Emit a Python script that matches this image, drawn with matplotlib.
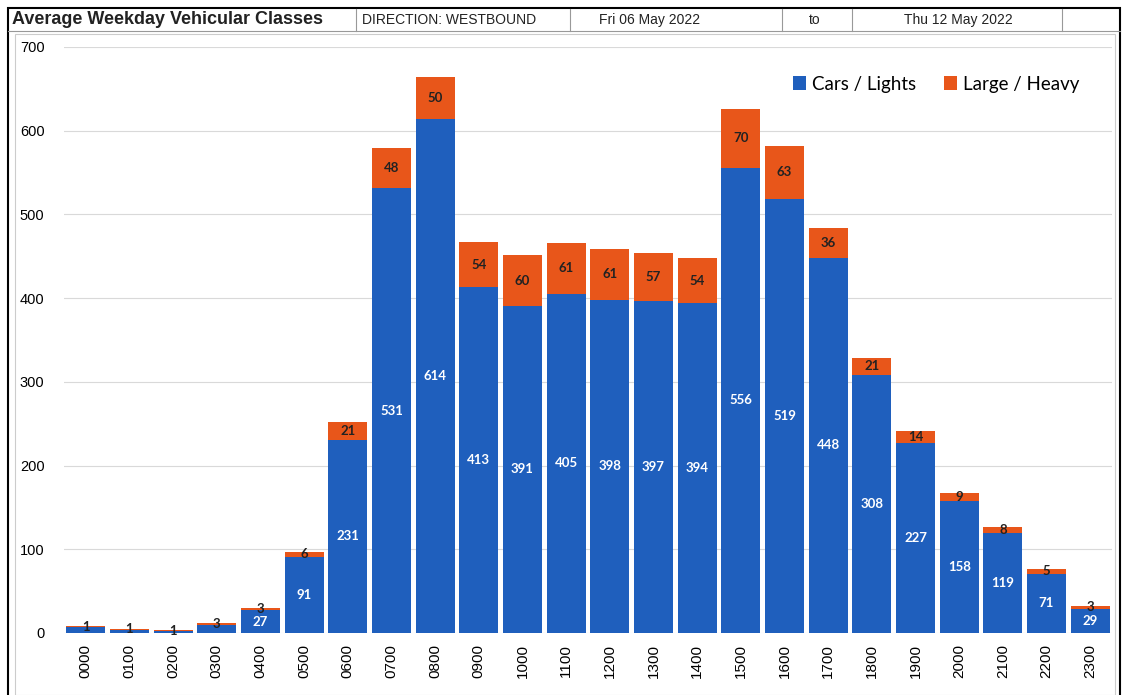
import numpy as np
import matplotlib.pyplot as plt
from matplotlib.patches import Rectangle
from matplotlib.lines import Line2D

hours = ["0000", "0100", "0200", "0300", "0400", "0500", "0600", "0700",
         "0800", "0900", "1000", "1100", "1200", "1300", "1400", "1500",
         "1600", "1700", "1800", "1900", "2000", "2100", "2200", "2300"]
cars = [7, 4, 2, 9, 27, 91, 231, 531, 614, 413, 391, 405, 398, 397, 394,
        556, 519, 448, 308, 227, 158, 119, 71, 29]
heavy = [1, 1, 1, 3, 3, 6, 21, 48, 50, 54, 60, 61, 61, 57, 54, 70, 63, 36,
         21, 14, 9, 8, 5, 3]

blue = "#1f5fbd"
orange = "#e8561a"

plt.rcParams['font.family'] = ['Liberation Sans', 'DejaVu Sans']

fig = plt.figure(figsize=(11.25, 6.95), dpi=100)
W, H = 1125, 695

def fx(px):
    return px / W

def fy(py):
    return 1 - py / H

# outer frame and header cells
fig.add_artist(Rectangle((fx(8), fy(700)), fx(1112), fy(8) - fy(700),
                         transform=fig.transFigure, fill=False,
                         edgecolor="black", lw=1.5))
fig.add_artist(Line2D([fx(8), fx(1120)], [fy(31), fy(31)],
                      transform=fig.transFigure, color="#999999", lw=0.8))
for sx in [356, 570, 782, 852, 1062]:
    fig.add_artist(Line2D([fx(sx), fx(sx)], [fy(9), fy(31)],
                          transform=fig.transFigure, color="#999999", lw=0.8))
fig.add_artist(Rectangle((fx(15), fy(695)), fx(1100), fy(34) - fy(695),
                         transform=fig.transFigure, fill=False,
                         edgecolor="#cccccc", lw=0.8))

fig.text(fx(12), fy(20), "Average Weekday Vehicular Classes", fontsize=13,
         fontweight="bold", va="center", ha="left", color="#222222")
fig.text(fx(362), fy(20), "DIRECTION: WESTBOUND", fontsize=10,
         va="center", ha="left", color="#222222")
fig.text(fx(650), fy(20), "Fri 06 May 2022", fontsize=10, va="center",
         ha="center", color="#222222")
fig.text(fx(815), fy(20), "to", fontsize=10, va="center", ha="center",
         color="#222222")
fig.text(fx(958), fy(20), "Thu 12 May 2022", fontsize=10, va="center",
         ha="center", color="#222222")

ax = fig.add_axes([fx(64), fy(633), fx(1112) - fx(64), fy(47) - fy(633)])
x = np.arange(len(hours))
b1 = ax.bar(x, cars, width=0.89, color=blue, label="Cars / Lights", zorder=3)
b2 = ax.bar(x, heavy, width=0.89, bottom=cars, color=orange,
            label="Large / Heavy", zorder=3)

for i in range(len(hours)):
    if cars[i] >= 20:
        ax.text(x[i], cars[i] / 2, str(cars[i]), ha="center", va="center",
                color="white", fontsize=9.5, fontweight="bold", zorder=4,
                family="Lato")
    ax.text(x[i], cars[i] + heavy[i] / 2, str(heavy[i]), ha="center",
            va="center", color="#222222", fontsize=9.5, fontweight="bold",
            zorder=4, family="Lato")

ax.set_xlim(-0.5, 23.5)
ax.set_ylim(0, 700)
ax.set_yticks(range(0, 701, 100))
ax.set_xticks(x)
ax.set_xticklabels(hours, rotation=90, fontsize=11)
ax.tick_params(axis="y", labelsize=10.5, length=0, pad=14)
ax.tick_params(axis="x", length=0, pad=8)
ax.grid(axis="y", color="#d9d9d9", lw=0.8, zorder=0)
for s in ax.spines.values():
    s.set_visible(False)

ax.legend(loc="upper right", bbox_to_anchor=(0.985, 0.98), ncol=2,
          frameon=False, prop={"family": "Lato", "size": 13.5},
          handlelength=0.7, handleheight=0.7,
          handletextpad=0.3, columnspacing=1.5)

fig.savefig("out.png", dpi=100)
